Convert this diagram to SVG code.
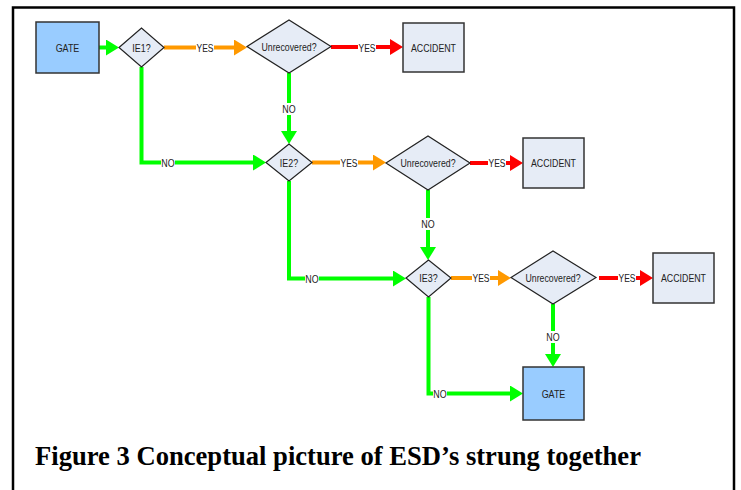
<svg xmlns="http://www.w3.org/2000/svg" width="741" height="490" viewBox="0 0 741 490">
  <style>
    .gate { fill: #99CCFF; stroke: #333333; stroke-width: 1.5; }
    .acc { fill: #E6ECF6; stroke: #333333; stroke-width: 1.5; }
    .dia { fill: #E6ECF6; stroke: #222222; stroke-width: 1.2; }
    .lbl { font-family: 'Liberation Sans', Arial, sans-serif; font-size: 10.5px; fill: #222222; text-anchor: middle; dominant-baseline: central; }
    .g { stroke: #00FF00; stroke-width: 4; fill: none; }
    .o { stroke: #FF9900; stroke-width: 4; fill: none; }
    .r { stroke: #FF0000; stroke-width: 4; fill: none; }
    .bg { fill: #FFFFFF; }
    .cap { font-family: 'Liberation Serif', 'Times New Roman', serif; font-weight: bold; font-size: 26.6px; fill: #000000; }
  </style>
  <defs>
    <marker id="ag" markerUnits="userSpaceOnUse" markerWidth="14" markerHeight="16" refX="0" refY="8" orient="auto" viewBox="0 0 14 16">
      <path d="M0,0 L13,8 L0,16 Z" fill="#00FF00"/>
    </marker>
    <marker id="ao" markerUnits="userSpaceOnUse" markerWidth="14" markerHeight="16" refX="0" refY="8" orient="auto" viewBox="0 0 14 16">
      <path d="M0,0 L13,8 L0,16 Z" fill="#FF9900"/>
    </marker>
    <marker id="ar" markerUnits="userSpaceOnUse" markerWidth="14" markerHeight="16" refX="0" refY="8" orient="auto" viewBox="0 0 14 16">
      <path d="M0,0 L13,8 L0,16 Z" fill="#FF0000"/>
    </marker>
  </defs>
  <rect x="0" y="0" width="741" height="490" fill="#FFFFFF"/>
  <path d="M13,490 V7.5 H734 V490" fill="none" stroke="#000000" stroke-width="2.5"/>

  <g id="connectors">
    <path class="g" d="M99,47.5 H106" marker-end="url(#ag)"/>
    <path class="o" d="M164,47.5 H234" marker-end="url(#ao)"/>
    <path class="r" d="M331,47 H390" marker-end="url(#ar)"/>
    <path class="g" d="M289,73 V131" marker-end="url(#ag)"/>
    <path class="g" d="M141.5,67 V162.5 H253" marker-end="url(#ag)"/>
    <path class="o" d="M312,162.5 H373" marker-end="url(#ao)"/>
    <path class="r" d="M470,163 H510" marker-end="url(#ar)"/>
    <path class="g" d="M428,190 V247" marker-end="url(#ag)"/>
    <path class="g" d="M289,181 V278.5 H393" marker-end="url(#ag)"/>
    <path class="o" d="M451,278 H498" marker-end="url(#ao)"/>
    <path class="r" d="M599,278 H640" marker-end="url(#ar)"/>
    <path class="g" d="M553,304 V354" marker-end="url(#ag)"/>
    <path class="g" d="M428.5,297 V393.5 H510" marker-end="url(#ag)"/>

    <rect class="bg" x="196" y="42" width="18" height="11"/>
    <text class="lbl" x="205" y="47.5" textLength="17" lengthAdjust="spacingAndGlyphs">YES</text>
    <rect class="bg" x="358" y="42" width="18" height="11"/>
    <text class="lbl" x="367" y="47.5" textLength="17" lengthAdjust="spacingAndGlyphs">YES</text>
    <rect class="bg" x="282" y="103" width="14" height="12"/>
    <text class="lbl" x="289" y="109" textLength="13.3" lengthAdjust="spacingAndGlyphs">NO</text>
    <rect class="bg" x="161" y="157" width="14" height="11"/>
    <text class="lbl" x="168" y="162.5" textLength="13.3" lengthAdjust="spacingAndGlyphs">NO</text>
    <rect class="bg" x="340" y="157" width="18" height="11"/>
    <text class="lbl" x="349" y="162.5" textLength="17" lengthAdjust="spacingAndGlyphs">YES</text>
    <rect class="bg" x="488" y="157.5" width="18" height="11"/>
    <text class="lbl" x="497" y="163" textLength="17" lengthAdjust="spacingAndGlyphs">YES</text>
    <rect class="bg" x="421" y="218" width="14" height="12"/>
    <text class="lbl" x="428" y="224" textLength="13.3" lengthAdjust="spacingAndGlyphs">NO</text>
    <rect class="bg" x="305" y="273" width="14" height="11"/>
    <text class="lbl" x="312" y="278.5" textLength="13.3" lengthAdjust="spacingAndGlyphs">NO</text>
    <rect class="bg" x="472" y="272.5" width="18" height="11"/>
    <text class="lbl" x="481" y="278" textLength="17" lengthAdjust="spacingAndGlyphs">YES</text>
    <rect class="bg" x="618" y="272.5" width="18" height="11"/>
    <text class="lbl" x="627" y="278" textLength="17" lengthAdjust="spacingAndGlyphs">YES</text>
    <rect class="bg" x="546" y="331" width="14" height="12"/>
    <text class="lbl" x="553" y="337" textLength="13.3" lengthAdjust="spacingAndGlyphs">NO</text>
    <rect class="bg" x="433" y="388" width="14" height="11"/>
    <text class="lbl" x="440" y="393.5" textLength="13.3" lengthAdjust="spacingAndGlyphs">NO</text>
  </g>

  <g id="gate1">
    <rect class="gate" x="36" y="22" width="63" height="51"/>
    <text class="lbl" x="67.5" y="47.5" textLength="23.7" lengthAdjust="spacingAndGlyphs">GATE</text>
  </g>
  <g id="ie1">
    <polygon class="dia" points="119,47.5 141.5,28 164,47.5 141.5,67"/>
    <text class="lbl" x="141.5" y="47.5" textLength="18.3" lengthAdjust="spacingAndGlyphs">IE1?</text>
  </g>
  <g id="unrecovered1">
    <polygon class="dia" points="247,46.5 289,20 331,46.5 289,73"/>
    <text class="lbl" x="289" y="46.5" textLength="55" lengthAdjust="spacingAndGlyphs">Unrecovered?</text>
  </g>
  <g id="accident1">
    <rect class="acc" x="403" y="23" width="61" height="49"/>
    <text class="lbl" x="433.5" y="47.5" textLength="45" lengthAdjust="spacingAndGlyphs">ACCIDENT</text>
  </g>
  <g id="ie2">
    <polygon class="dia" points="266,162.5 289,144 312,162.5 289,181"/>
    <text class="lbl" x="289" y="162.5" textLength="18.3" lengthAdjust="spacingAndGlyphs">IE2?</text>
  </g>
  <g id="unrecovered2">
    <polygon class="dia" points="386,163 428,136 470,163 428,190"/>
    <text class="lbl" x="428" y="163" textLength="55" lengthAdjust="spacingAndGlyphs">Unrecovered?</text>
  </g>
  <g id="accident2">
    <rect class="acc" x="523" y="138" width="61" height="50"/>
    <text class="lbl" x="553.5" y="163" textLength="45" lengthAdjust="spacingAndGlyphs">ACCIDENT</text>
  </g>
  <g id="ie3">
    <polygon class="dia" points="406,278 428.5,260 451,278 428.5,297"/>
    <text class="lbl" x="428.5" y="278" textLength="18.3" lengthAdjust="spacingAndGlyphs">IE3?</text>
  </g>
  <g id="unrecovered3">
    <polygon class="dia" points="511,277.5 553,251 596,277.5 553,304"/>
    <text class="lbl" x="553" y="277.5" textLength="55" lengthAdjust="spacingAndGlyphs">Unrecovered?</text>
  </g>
  <g id="accident3">
    <rect class="acc" x="653" y="253" width="61" height="50"/>
    <text class="lbl" x="683.5" y="278" textLength="45" lengthAdjust="spacingAndGlyphs">ACCIDENT</text>
  </g>
  <g id="gate2">
    <rect class="gate" x="523" y="367" width="61" height="53"/>
    <text class="lbl" x="553.5" y="393.5" textLength="23.7" lengthAdjust="spacingAndGlyphs">GATE</text>
  </g>

  <text class="cap" x="35" y="465">Figure 3 Conceptual picture of ESD’s strung together</text>
</svg>
